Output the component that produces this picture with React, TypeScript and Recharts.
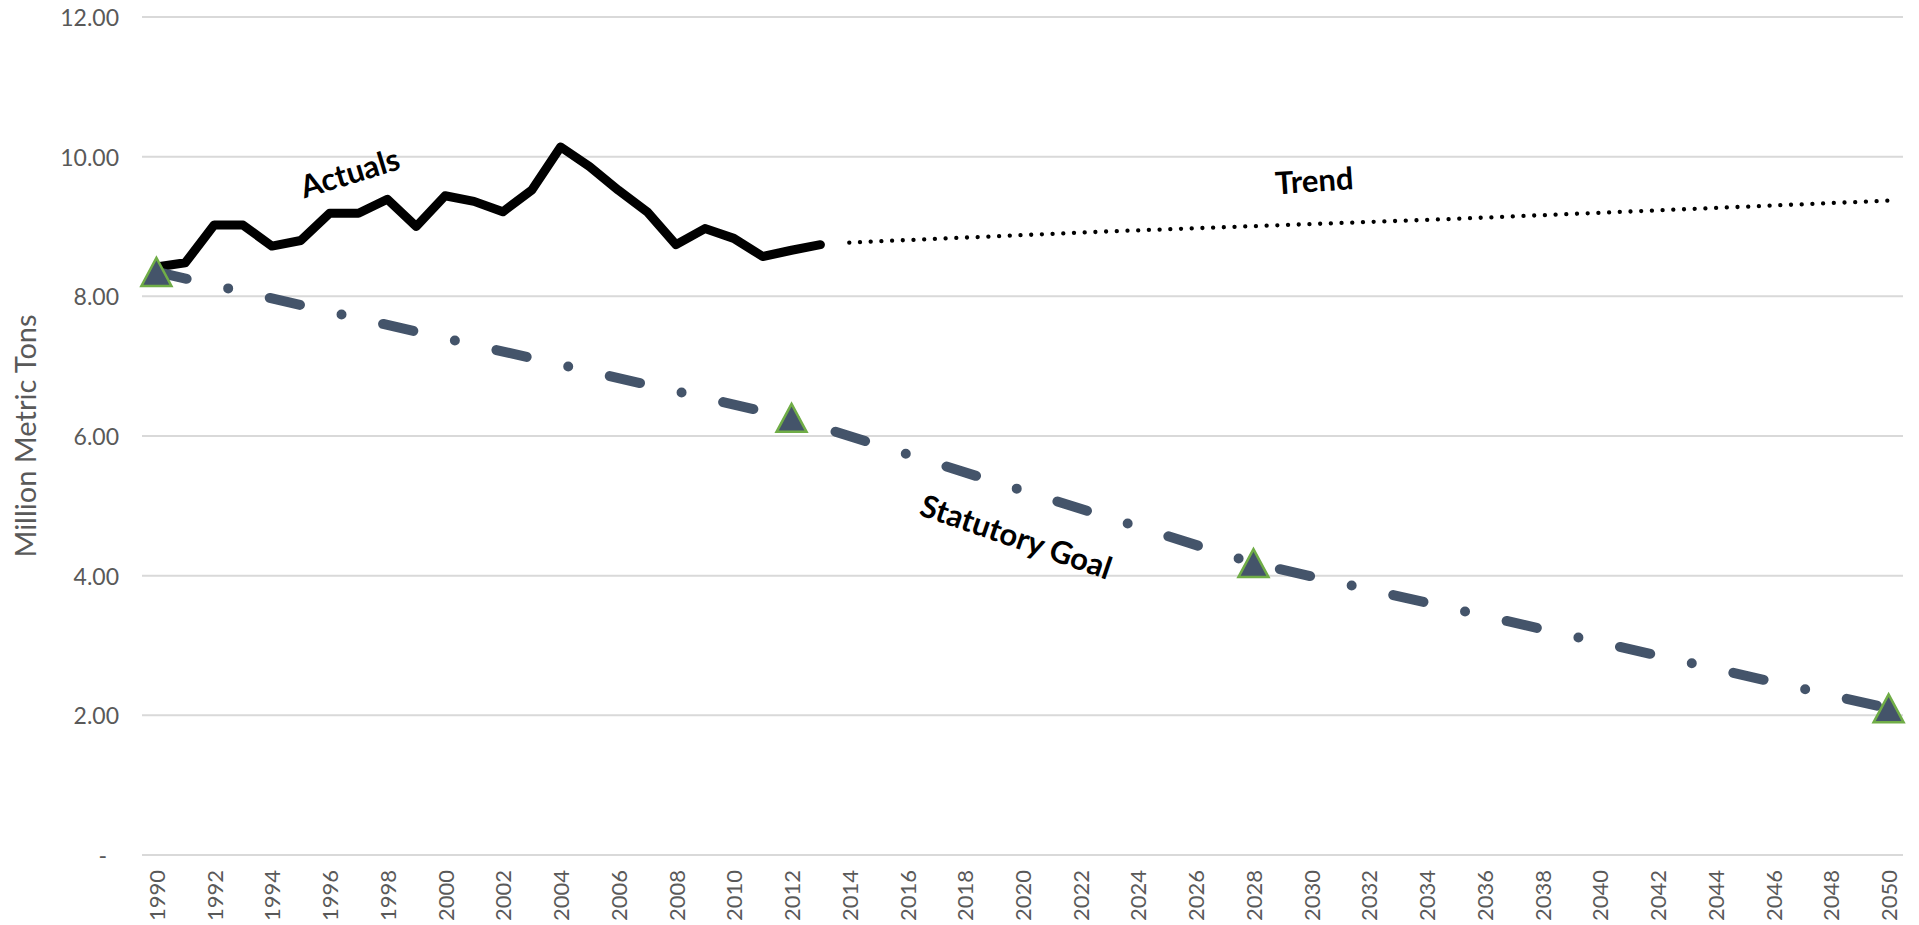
import React from 'react';
import {
  LineChart,
  Line,
  XAxis,
  YAxis,
  CartesianGrid,
  ReferenceDot
} from 'recharts';

// categories
const years: number[] = Array.from({ length: 61 }, (_, i) => 1990 + i);
const yTicks = [0, 2, 4, 6, 8, 10, 12];

// Actuals, 1990 - 2013
const actualValues = [
  8.42, 8.48, 9.02, 9.02, 8.72, 8.80, 9.19, 9.19, 9.39, 9.00,
  9.44, 9.36, 9.21, 9.52, 10.14, 9.86, 9.52, 9.21, 8.74, 8.97,
  8.83, 8.57, 8.66, 8.74
];

// dotted trend readings
const trendYears = [2014, 2023, 2035, 2050];
const trendValues = [8.77, 8.93, 9.11, 9.37];

// statutory goal milestones (triangles)
const goalYears = [1990, 2012, 2028, 2050];
const goalValues = [8.35, 6.26, 4.18, 2.10];

const chartData = years.map((year, i) => {
  const ti = trendYears.indexOf(year);
  const gi = goalYears.indexOf(year);
  return {
    year,
    actual: i < actualValues.length ? actualValues[i] : null,
    trend: ti >= 0 ? trendValues[ti] : null,
    goal: gi >= 0 ? goalValues[gi] : null,
  };
});

const AXIS_GREY = '#595959';
const GRID_GREY = '#D9D9D9';
const GOAL_BLUE = '#44546A';
const FONT = 'Lato, "Open Sans", sans-serif';

const XTick = (props: any) => {
  const { x, y, payload } = props;
  return (
    <text
      x={x}
      y={y}
      transform={`rotate(-90 ${x} ${y})`}
      textAnchor="end"
      dominantBaseline="central"
      fill={AXIS_GREY}
      fontSize={22}
      fontFamily={FONT}
    >
      {payload.value}
    </text>
  );
};

const YTick = (props: any) => {
  const { x, y, payload } = props;
  const v = payload.value as number;
  return (
    <text
      x={v === 0 ? x - 12 : x}
      y={y}
      textAnchor="end"
      dominantBaseline="central"
      fill={AXIS_GREY}
      fontSize={23}
      fontFamily={FONT}
    >
      {v === 0 ? '-' : v.toFixed(2)}
    </text>
  );
};

const Triangle = (props: any) => {
  const { cx, cy, value, index } = props;
  if (value == null || cx == null || cy == null) return <g key={`tri-${index}`} />;
  const w = 15;
  const h = 14;
  return (
    <path
      key={`tri-${index}`}
      d={`M${cx},${cy - h} L${cx + w},${cy + h} L${cx - w},${cy + h} Z`}
      fill={GOAL_BLUE}
      stroke="#70AD47"
      strokeWidth={2.5}
      strokeLinejoin="miter"
    />
  );
};

const Annot = (props: any) => {
  const { viewBox, text, rot, shiftX = 0 } = props;
  if (!viewBox) return null;
  const cx = viewBox.x + (viewBox.width || 0) / 2 + shiftX;
  const cy = viewBox.y + (viewBox.height || 0) / 2;
  return (
    <text
      x={cx}
      y={cy}
      transform={`rotate(${rot} ${cx} ${cy})`}
      textAnchor="middle"
      dominantBaseline="central"
      fill="#000000"
      fontSize={31}
      fontWeight={700}
      fontFamily={FONT}
    >
      {text}
    </text>
  );
};

const YLabel = (props: any) => {
  const { viewBox } = props;
  const x = 24;
  const y = viewBox.y + viewBox.height / 2;
  return (
    <text
      x={x}
      y={y}
      transform={`rotate(-90 ${x} ${y})`}
      textAnchor="middle"
      dominantBaseline="central"
      fill={AXIS_GREY}
      fontSize={29}
      fontFamily={FONT}
    >
      Million Metric Tons
    </text>
  );
};

export default function App() {
  return (
    <div style={{ position: 'absolute', left: 0, top: 0, width: 1919, height: 925, background: '#fff' }}>
      <LineChart
        width={1919}
        height={925}
        data={chartData}
        margin={{ top: 17, right: 16, left: 0, bottom: 0 }}
      >
        <CartesianGrid vertical={false} stroke={GRID_GREY} strokeWidth={2} />
        <XAxis
          dataKey="year"
          interval={1}
          height={70}
          padding={{ left: 14.4, right: 14.4 }}
          axisLine={{ stroke: GRID_GREY, strokeWidth: 2 }}
          tickLine={false}
          tickSize={0}
          tickMargin={15}
          tick={<XTick />}
        />
        <YAxis
          width={142}
          domain={[0, 12]}
          ticks={yTicks}
          axisLine={false}
          tickLine={false}
          tickSize={0}
          tickMargin={23}
          tick={<YTick />}
          label={<YLabel />}
        />
        <Line
          dataKey="actual"
          stroke="#000000"
          strokeWidth={9}
          strokeLinejoin="round"
          strokeLinecap="round"
          dot={false}
          activeDot={false}
          isAnimationActive={false}
        />
        <Line
          dataKey="trend"
          stroke="#000000"
          strokeWidth={4.3}
          strokeLinecap="round"
          strokeDasharray="0.01 10.7"
          connectNulls
          dot={false}
          activeDot={false}
          isAnimationActive={false}
        />
        <Line
          dataKey="goal"
          stroke={GOAL_BLUE}
          strokeWidth={10}
          strokeLinecap="round"
          strokeDasharray="31 42.65 0 42.65"
          connectNulls
          dot={Triangle}
          activeDot={false}
          isAnimationActive={false}
        />
        <ReferenceDot x={1997} y={9.78} r={1} fill="none" stroke="none" ifOverflow="visible"
          label={<Annot text="Actuals" rot={-17} shiftX={-9} />} />
        <ReferenceDot x={2030} y={9.67} r={1} fill="none" stroke="none" ifOverflow="visible"
          label={<Annot text="Trend" rot={-4} shiftX={3} />} />
        <ReferenceDot x={2020} y={4.57} r={1} fill="none" stroke="none" ifOverflow="visible"
          label={<Annot text="Statutory Goal" rot={19} shiftX={-6} />} />
      </LineChart>
    </div>
  );
}
